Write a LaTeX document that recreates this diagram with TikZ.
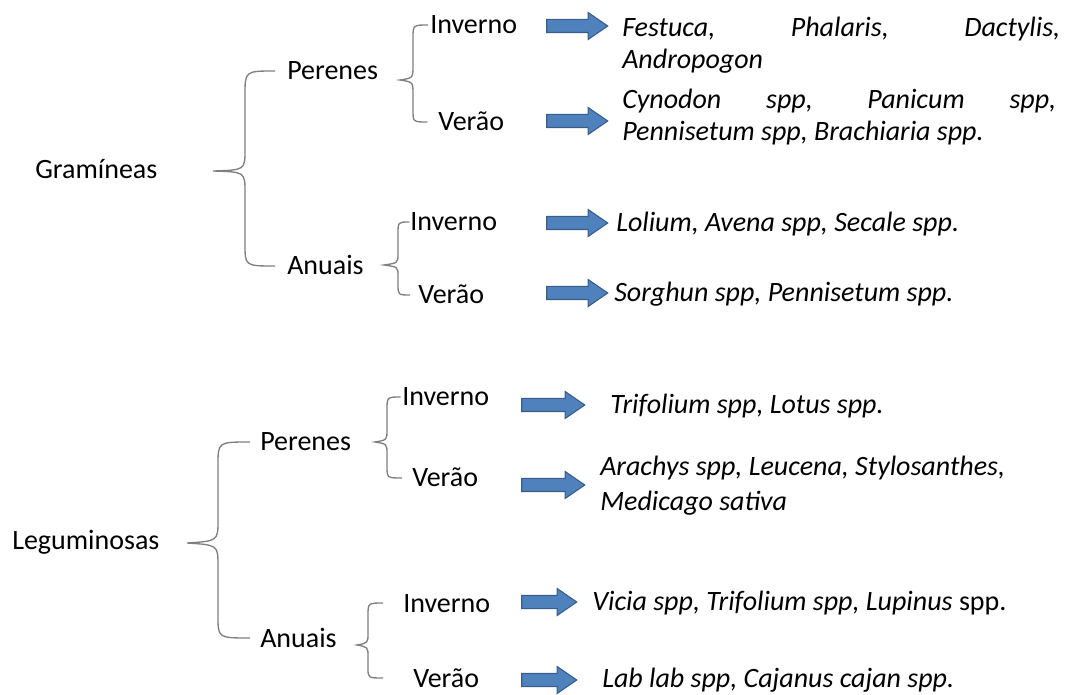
\documentclass[tikz,border=0pt]{standalone}
\usepackage{fontspec}
\setmainfont{Carlito}
\usepackage{tikz}
\usetikzlibrary{shapes.arrows}
\definecolor{setaazul}{HTML}{4F81BD}
\definecolor{setaborda}{HTML}{385D8A}
\definecolor{chave}{HTML}{7F7F7F}
\hyphenpenalty=10000

\begin{document}
\begin{tikzpicture}[x=0.75pt,y=-0.75pt,
font=\fontsize{21}{24}\selectfont,
rotulo/.style={anchor=west,inner sep=0pt,text height=13.5pt,text depth=0pt},
especie/.style={anchor=west,inner sep=0pt,text height=13.5pt,text depth=0pt,font=\fontsize{21}{24}\selectfont\itshape},
bloco/.style={anchor=base west,inner sep=0pt,align=justify,font=\fontsize{21}{24}\selectfont\itshape},
seta/.style={single arrow,draw=setaborda,fill=setaazul,line width=0.8pt,
inner sep=4.5pt,single arrow head extend=5.25pt,single arrow tip angle=69,
minimum height=45.75pt},
chaveta/.style={draw=chave,line width=1pt}
]
\useasboundingbox (0,0) rectangle (1065,695);

\node[rotulo] (gram) at (35,170) {Gramíneas};
\node[rotulo] (gper) at (287,71) {Perenes};
\node[rotulo] (gpinv) at (430,25) {Inverno};
\node[rotulo] (gpver) at (438,122) {Verão};
\node[rotulo] (gan) at (287,266) {Anuais};
\node[rotulo] (gainv) at (410,222) {Inverno};
\node[rotulo] (gaver) at (418,295) {Verão};

\node[seta] (sgpinv) at (572.5,26) {};
\node[seta] (sgpver) at (572.5,121) {};
\node[seta] (sgainv) at (572.5,223) {};
\node[seta] (sgaver) at (572.5,293) {};

\node[bloco,text width=328.5pt] (tgpinv) at (622,37) {Festuca, Phalaris, Dactylis,\linebreak Andropogon};
\node[bloco,text width=325.5pt] (tgpver) at (622,109) {Cynodon spp, Panicum spp,\linebreak Pennisetum spp, Brachiaria spp.};
\node[especie] (tgainv) at (616,223) {Lolium, Avena spp, Secale spp.};
\node[especie] (tgaver) at (614,293) {Sorghun spp, Pennisetum spp.};

\draw[chaveta] ([xshift=-9pt]gper.west) .. controls (245,71) .. (245,95) -- (245,150)
  .. controls (245,170) .. (213,171) .. controls (245,172) .. (245,192) -- (245,244)
  .. controls (245,266) .. ([xshift=-9pt]gan.west);
\draw[chaveta] ([xshift=-1.5pt]gpinv.west) .. controls (413,25) .. (413,38) -- (413,66)
  .. controls (413,78) .. (400,80) .. controls (413,82) .. (413,94) -- (413,110)
  .. controls (413,122) .. ([xshift=-8pt]gpver.west);
\draw[chaveta] ([xshift=-0.5pt]gainv.west) .. controls (398,222) .. (398,234) -- (398,254)
  .. controls (398,263) .. (384,265) .. controls (398,267) .. (398,276) -- (398,284)
  .. controls (398,295) .. ([xshift=-6pt]gaver.west);

\node[rotulo] (leg) at (12,540) {Leguminosas};
\node[rotulo] (lper) at (260,442) {Perenes};
\node[rotulo] (lpinv) at (402,397) {Inverno};
\node[rotulo] (lpver) at (412,478) {Verão};
\node[rotulo] (lan) at (260,638) {Anuais};
\node[rotulo] (lainv) at (403,603) {Inverno};
\node[rotulo] (laver) at (413,678) {Verão};

\node[seta,minimum height=47.25pt] (slpinv) at (548.5,405) {};
\node[seta,minimum height=47.25pt] (slpver) at (548.5,485) {};
\node[seta,minimum height=41.25pt] (slainv) at (544.5,602) {};
\node[seta,minimum height=41.25pt] (slaver) at (544.5,680) {};

\node[especie] (tlpinv) at (610,405) {Trifolium spp, Lotus spp.};
\node[bloco,align=flush left,text width=330pt,font=\fontsize{21}{26}\selectfont\itshape] (tlpver) at (600,476)
  {Arachys spp, Leucena, Stylosanthes,\\Medicago sativa};
\node[especie] (tlainv) at (592,601) {Vicia spp, Trifolium spp, Lupinus \textup{spp.}};
\node[especie] (tlaver) at (602,678) {Lab lab spp, Cajanus cajan spp.};

\draw[chaveta] ([xshift=-7.5pt]lper.west) .. controls (218,442) .. (218,465) -- (218,520)
  .. controls (218,541) .. (187,543) .. controls (218,545) .. (218,566) -- (218,616)
  .. controls (218,638) .. ([xshift=-7.5pt]lan.west);
\draw[chaveta] ([xshift=-1pt]lpinv.west) .. controls (387,397) .. (387,410) -- (387,430)
  .. controls (387,440) .. (375,442) .. controls (387,444) .. (387,454) -- (387,466)
  .. controls (387,478) .. ([xshift=-7.5pt]lpver.west);
\draw[chaveta] ([xshift=-15pt]lainv.west) .. controls (368,603) .. (368,616) -- (368,633)
  .. controls (368,643) .. (357,645) .. controls (368,647) .. (368,657) -- (368,668)
  .. controls (368,678) .. ([xshift=-22.5pt]laver.west);
\end{tikzpicture}
\end{document}
